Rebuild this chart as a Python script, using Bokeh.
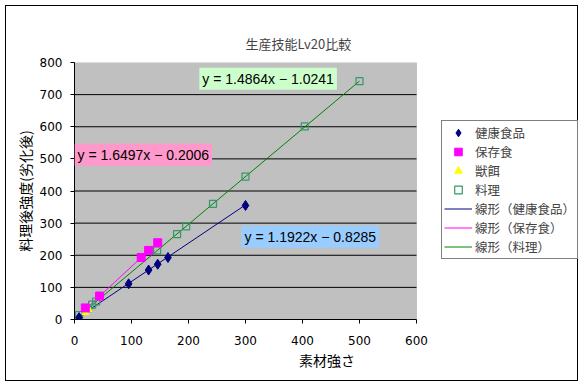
from bokeh.plotting import figure
from bokeh.models import Range1d, FixedTicker, Legend, LegendItem, Label, BoxAnnotation
from bokeh.embed import file_html
from bokeh.resources import INLINE

# ---- data ----
title_text = "生産技能Lv20比較"
x_label = "素材強さ"
y_label = "料理後強度(劣化後)"

health_name = "健康食品"
health_x = [8, 95, 130, 146, 164, 300]
health_y = [6, 111, 154, 172, 193, 355]

preserve_name = "保存食"
preserve_x = [19, 44, 117, 130, 146]
preserve_y = [36, 73, 193, 215, 239]

bait_name = "獣餌"
bait_x = [19, 25]
bait_y = [22, 31]

cook_name = "料理"
cook_x = [8, 24, 31, 38, 145, 180, 196, 243, 300, 404, 500]
cook_y = [14, 35, 46, 56, 215, 266, 290, 360, 445, 601, 742]

trend_names = ["線形（健康食品）", "線形（保存食）", "線形（料理）"]
health_fit = (1.1922, -0.8285)
preserve_fit = (1.6497, -0.2006)
cook_fit = (1.4864, -1.0241)

x_ticks = [0, 100, 200, 300, 400, 500, 600]
y_ticks = [0, 100, 200, 300, 400, 500, 600, 700, 800]

JP = "Noto Sans CJK JP"

# layout (pixels)
W, H = 573, 376
LEFT, TOP, BOTTOM = 68, 56, 63
PLOT_W = 342                      # pixel width of the 0..600 plot area
FRAME_W = W - LEFT                # frame extends to the right edge (room for legend)
x_lo, x_hi = x_ticks[0], x_ticks[-1]
y_lo, y_hi = y_ticks[0], y_ticks[-1]

p = figure(width=W, height=H, output_backend="svg", toolbar_location=None,
           x_range=Range1d(x_lo, x_lo + (x_hi - x_lo) * FRAME_W / PLOT_W),
           y_range=Range1d(y_lo, y_hi),
           min_border_left=LEFT, min_border_right=0, min_border_top=TOP,
           min_border_bottom=BOTTOM)
p.styles = {"margin-left": "5px", "margin-top": "5px", "border": "1px solid black"}

p.background_fill_color = "white"
p.border_fill_color = "white"
p.outline_line_color = None

# plot area
p.add_layout(BoxAnnotation(left=x_lo, right=x_hi, bottom=y_lo, top=y_hi,
                           fill_color="#C0C0C0", fill_alpha=1,
                           line_color="#808080", line_width=1, level="underlay"))

p.title.text = title_text
p.title.text_font = JP
p.title.text_font_size = "13px"
p.title.text_font_style = "normal"
p.title.align = "left"
p.title.vertical_align = "top"
p.title.offset = 171
p.title.standoff = 16

p.xgrid.visible = False
p.ygrid.visible = False
grid_y = y_ticks[1:-1]
p.segment(x0=[x_lo] * len(grid_y), x1=[x_hi] * len(grid_y), y0=grid_y, y1=grid_y,
          line_color="black", line_width=1)

for ax, ticks, bnds in ((p.xaxis[0], x_ticks, (x_lo, x_hi)), (p.yaxis[0], y_ticks, (y_lo, y_hi))):
    ax.ticker = FixedTicker(ticks=ticks)
    ax.bounds = bnds
    ax.minor_tick_line_color = None
    ax.major_tick_in = 0
    ax.major_tick_out = 4
    ax.axis_line_color = "black"
    ax.major_tick_line_color = "black"
    ax.major_label_text_font = "DejaVu Sans"
    ax.major_label_text_font_size = "12px"
    ax.major_label_text_color = "black"
    ax.axis_label_text_font = JP
    ax.axis_label_text_font_size = "14px"
    ax.axis_label_text_font_style = "normal"
    ax.axis_label_text_color = "black"

p.xaxis.axis_label = x_label
p.yaxis.axis_label = y_label
p.xaxis.major_label_standoff = 12
p.xaxis.axis_label_standoff = 2
p.yaxis.major_label_standoff = 8
p.yaxis.axis_label_standoff = 2

def trend(xs, fit):
    lo, hi = min(xs), max(xs)
    return [lo, hi], [fit[0] * lo + fit[1], fit[0] * hi + fit[1]]

tx, ty = trend(health_x, health_fit)
l_h = p.line(tx, ty, line_color="#000080", line_width=1)
tx, ty = trend(preserve_x, preserve_fit)
l_p = p.line(tx, ty, line_color="#FF00FF", line_width=1)
tx, ty = trend(cook_x, cook_fit)
l_c = p.line(tx, ty, line_color="#008000", line_width=1)

r_c = p.scatter(cook_x, cook_y, marker="square", size=7, fill_color=None,
                line_color="#339966", line_width=1.2)
r_b = p.scatter(bait_x, bait_y, marker="triangle", size=7, fill_color="#FFFF00",
                line_color="#FFFF00")
r_p = p.scatter(preserve_x, preserve_y, marker="square", size=8, fill_color="#FF00FF",
                line_color="#FF00FF")
r_h = p.scatter(health_x, health_y, marker="diamond", size=10, fill_color="#000080",
                line_color="#000080")

legend = Legend(items=[
    LegendItem(label=health_name, renderers=[r_h]),
    LegendItem(label=preserve_name, renderers=[r_p]),
    LegendItem(label=bait_name, renderers=[r_b]),
    LegendItem(label=cook_name, renderers=[r_c]),
    LegendItem(label=trend_names[0], renderers=[l_h]),
    LegendItem(label=trend_names[1], renderers=[l_p]),
    LegendItem(label=trend_names[2], renderers=[l_c]),
], location=(PLOT_W + 25, 60), margin=0, padding=2, spacing=0,
    label_height=19, glyph_height=19, glyph_width=28, label_standoff=3,
    label_text_font=JP, label_text_font_size="12.5px",
    border_line_color="black", border_line_width=1,
    background_fill_color="white", background_fill_alpha=1)
p.add_layout(legend, "center")

eq_font = "Liberation Sans"
for txt, lx, ly, bg in (
    ("y = 1.4864x − 1.0241", 219, 784, "#CCFFCC"),
    ("y = 1.6497x − 0.2006", 0, 547, "#FF99CC"),
    ("y = 1.1922x − 0.8285", 293, 292, "#99CCFF"),
):
    p.add_layout(Label(x=lx, y=ly, text=txt, anchor="top_left", padding=3,
                       text_font=eq_font, text_font_size="14px", text_color="black",
                       background_fill_color=bg, background_fill_alpha=1))

open("out.html", "w").write(file_html(p, INLINE))
